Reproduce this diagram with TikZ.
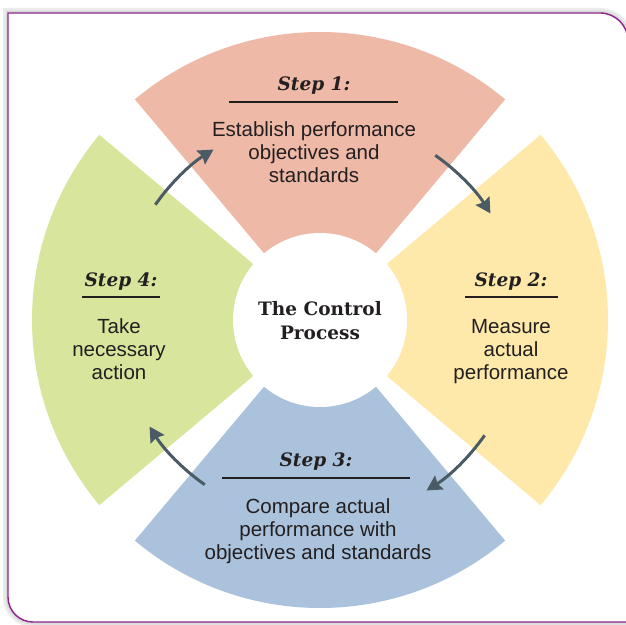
\documentclass[tikz,border=0pt]{standalone}
\usepackage{fontspec}
\setmainfont{Liberation Sans}
\newfontfamily\headfont{DejaVu Serif}
\usetikzlibrary{arrows.meta,calc}

\definecolor{framepurple}{RGB}{142,35,140}
\definecolor{ink}{RGB}{35,31,32}
\definecolor{arrowgray}{RGB}{74,91,102}
\definecolor{stepone}{RGB}{238,185,167}
\definecolor{steptwo}{RGB}{254,233,171}
\definecolor{stepthree}{RGB}{170,194,219}
\definecolor{stepfour}{RGB}{216,229,156}

\begin{document}
\begin{tikzpicture}[x=1pt,y=1pt,
  bodytext/.style={align=center, font=\fontsize{20.5}{23}\selectfont, text=ink, inner sep=0pt},
  steplabel/.style={font=\headfont\bfseries\itshape\fontsize{18.5}{22}\selectfont, text=ink, inner sep=0pt},
  titletext/.style={align=center, font=\headfont\bfseries\fontsize{18.5}{24}\selectfont, text=ink, inner sep=0pt},
  steprule/.style={draw=ink, line width=1.3pt},
  cyclearrow/.style={draw=arrowgray, line width=3pt, -{Stealth[length=15pt,width=16pt,inset=2pt]}}
]
% canvas
\clip (0,0) rectangle (626,624);
\fill[white] (0,0) rectangle (626,624);

% framed panel with a soft outer shadow
\def\panelpath{(8,611) -- (600,611) arc[start angle=90, end angle=0, radius=28] -- (628,2) -- (33,2) arc[start angle=270, end angle=180, radius=25] -- cycle}
\draw[black!8, line width=10pt] \panelpath;
\draw[black!14, line width=5pt] \panelpath;
\fill[white] \panelpath;
\draw[framepurple, line width=1.4pt] \panelpath;

% the four sectors around the centre
\coordinate (C) at (320,304);
\fill[stepone]   (C) -- ++(50:288)  arc[start angle=50,  end angle=130, radius=288] -- cycle;
\fill[stepfour]  (C) -- ++(140:288) arc[start angle=140, end angle=220, radius=288] -- cycle;
\fill[stepthree] (C) -- ++(230:288) arc[start angle=230, end angle=310, radius=288] -- cycle;
\fill[steptwo]   (C) -- ++(-40:288) arc[start angle=-40, end angle=40,  radius=288] -- cycle;
\fill[white] (C) circle[radius=87];

% centre title
\node[titletext] (title) at (320,303) {The Control\\Process};

% Step 1
\node[steplabel] (s1) at (314,538) {Step 1:};
\coordinate (u1a) at (229,522); \coordinate (u1b) at (398,522);
\draw[steprule] (u1a) -- (u1b);
\node[bodytext] (b1) at (314,472) {Establish performance\\objectives and\\standards};

% Step 2
\node[steplabel] (s2) at (511,342) {Step 2:};
\coordinate (u2a) at (465,327); \coordinate (u2b) at (558,327);
\draw[steprule] (u2a) -- (u2b);
\node[bodytext] (b2) at (511,272) {Measure\\actual\\performance};

% Step 3
\node[steplabel] (s3) at (316,162) {Step 3:};
\coordinate (u3a) at (222,146); \coordinate (u3b) at (410,146);
\draw[steprule] (u3a) -- (u3b);
\node[bodytext] (b3) at (318,93) {Compare actual\\performance with\\objectives and standards};

% Step 4
\node[steplabel] (s4) at (121,342) {Step 4:};
\coordinate (u4a) at (82,327); \coordinate (u4b) at (160,327);
\draw[steprule] (u4a) -- (u4b);
\node[bodytext] (b4) at (119,275) {Take\\necessary\\action};

% clockwise arrows between the steps
\coordinate (a41) at ($(C)+(145:201)$);
\coordinate (a12) at ($(C)+(55:201)$);
\coordinate (a23) at ($(C)+(-35:201)$);
\coordinate (a34) at ($(C)+(235:201)$);
\draw[cyclearrow] (a41) arc[start angle=145, end angle=122, radius=201];
\draw[cyclearrow] (a12) arc[start angle=55,  end angle=32,  radius=201];
\draw[cyclearrow] (a23) arc[start angle=-35, end angle=-58, radius=201];
\draw[cyclearrow] (a34) arc[start angle=235, end angle=212, radius=201];
\end{tikzpicture}
\end{document}
